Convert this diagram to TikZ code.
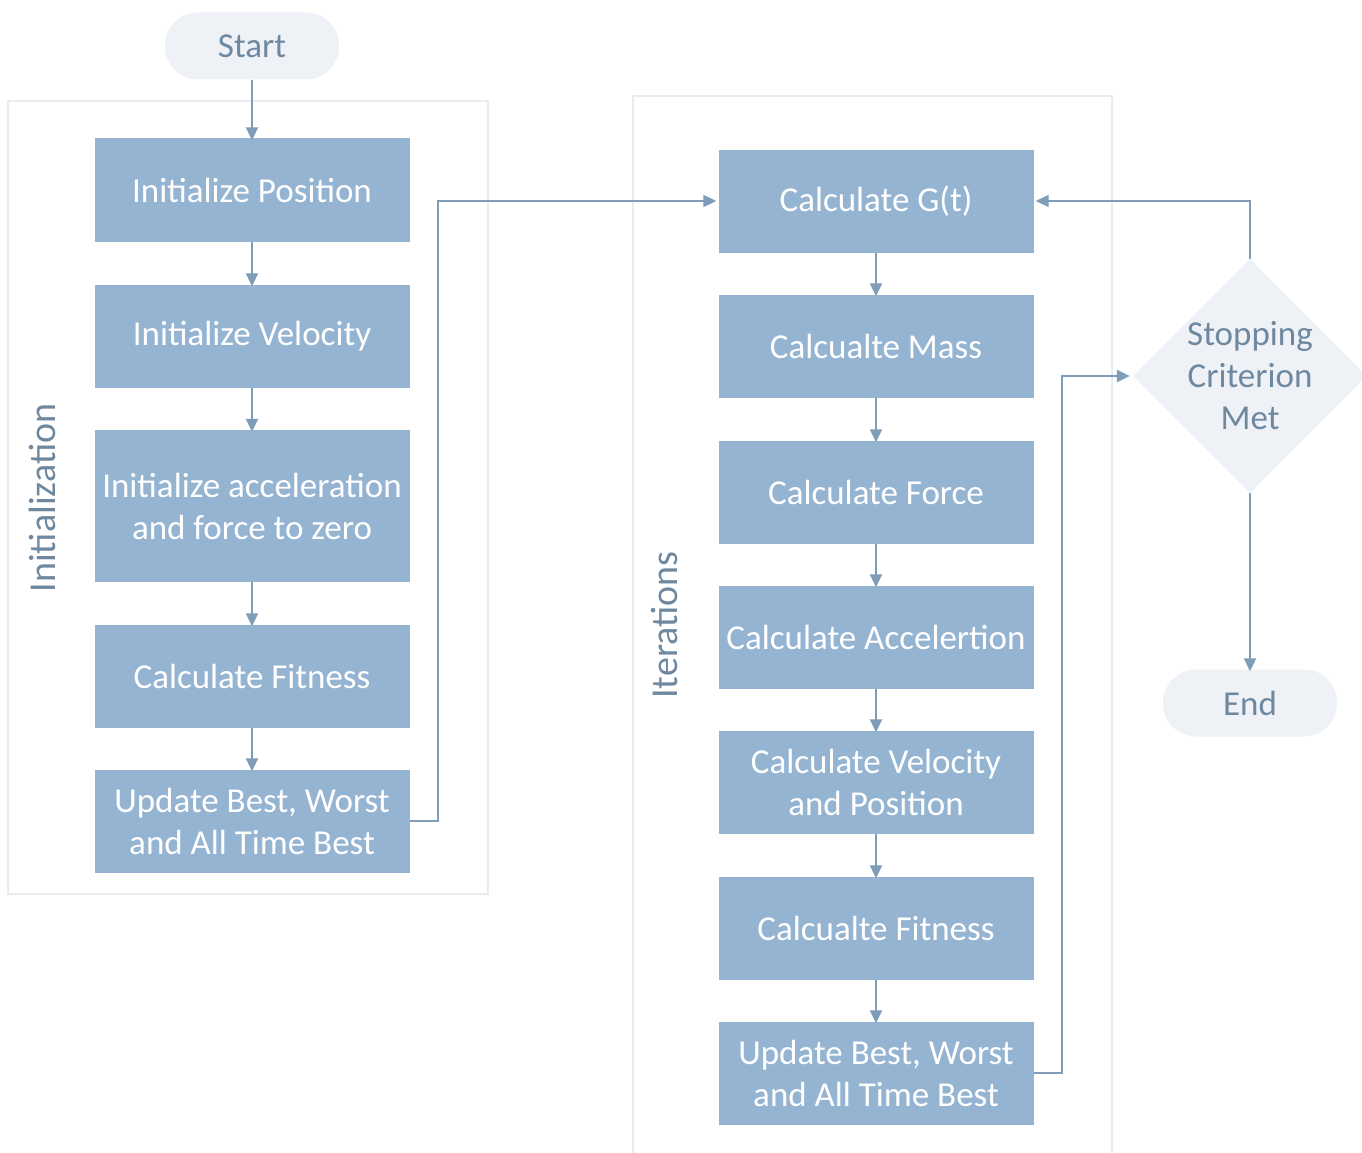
\documentclass[tikz,border=0pt]{standalone}
\usepackage{fontspec}
\setmainfont{Carlito}
\usetikzlibrary{shapes.geometric,arrows.meta}
\definecolor{boxfill}{RGB}{149,180,210}
\definecolor{termfill}{RGB}{238,241,246}
\definecolor{termtext}{RGB}{110,136,160}
\definecolor{wire}{RGB}{127,157,185}
\definecolor{frame}{RGB}{232,236,242}
\tikzset{
  stepbox/.style={draw=none, fill=boxfill, text=white, minimum width=315pt,
    minimum height=103pt, align=center, inner sep=0pt,
    font=\fontsize{35}{42}\selectfont},
  terminal/.style={fill=termfill, text=termtext, rounded corners=33pt,
    minimum width=174pt, minimum height=67pt, inner sep=0pt,
    font=\fontsize{35}{42}\selectfont},
  decision/.style={diamond, fill=termfill, text=termtext, minimum width=224pt,
    minimum height=220pt, inner sep=0pt, align=center, aspect=1,
    font=\fontsize{35}{42}\selectfont},
  flow/.style={draw=wire, line width=2pt, -{Triangle[length=13pt,width=12pt]}},
  group/.style={draw=frame, line width=2.2pt},
  grouplabel/.style={text=termtext, rotate=90, font=\fontsize{38}{42}\selectfont}
}
\begin{document}
\begin{tikzpicture}[x=1pt,y=-1pt]
\useasboundingbox (0,0) rectangle (1362,1153);
\fill[white] (0,0) rectangle (1362,1153);

% group frames
\draw[group] (8,101) rectangle (488,894);
\draw[group] (633,1153) -- (633,96) -- (1112,96) -- (1112,1153);
\node[grouplabel] (initlabel) at (42,498) {Initialization};
\node[grouplabel] (iterlabel) at (664,625) {Iterations};

% initialization column
\node[terminal] (start) at (252,46) {Start};
\node[stepbox] (ipos) at (252,190) {Initialize Position};
\node[stepbox] (ivel) at (252,336) {Initialize Velocity};
\node[stepbox, minimum height=152pt] (iacc) at (252,506) {Initialize acceleration\\and force to zero};
\node[stepbox] (ifit) at (252,676) {Calculate Fitness};
\node[stepbox] (ibest) at (252,821) {Update Best, Worst\\and All Time Best};

% iteration column
\node[stepbox] (gt) at (876,201) {Calculate G(t)};
\node[stepbox] (mass) at (876,346) {Calcualte Mass};
\node[stepbox] (force) at (876,492) {Calculate Force};
\node[stepbox] (acc) at (876,637) {Calculate Accelertion};
\node[stepbox] (velpos) at (876,782) {Calculate Velocity\\and Position};
\node[stepbox] (fit) at (876,928) {Calcualte Fitness};
\node[stepbox] (best) at (876,1073) {Update Best, Worst\\and All Time Best};

% decision and end
\node[decision] (stop) at (1250,376) {Stopping\\Criterion\\Met};
\node[terminal] (end) at (1250,703) {End};

% connectors
\draw[flow] (start) -- ([yshift=-2pt]ipos.north);
\draw[flow] (ipos) -- ([yshift=-2pt]ivel.north);
\draw[flow] (ivel) -- ([yshift=-2pt]iacc.north);
\draw[flow] (iacc) -- ([yshift=-2pt]ifit.north);
\draw[flow] (ifit) -- ([yshift=-2pt]ibest.north);
\draw[flow] (ibest.east) -- (438,821) |- ([xshift=-2pt]gt.west);

\draw[flow] (gt) -- ([yshift=-2pt]mass.north);
\draw[flow] (mass) -- ([yshift=-2pt]force.north);
\draw[flow] (force) -- ([yshift=-2pt]acc.north);
\draw[flow] (acc) -- ([yshift=-2pt]velpos.north);
\draw[flow] (velpos) -- ([yshift=-2pt]fit.north);
\draw[flow] (fit) -- ([yshift=-2pt]best.north);
\draw[flow] (best.east) -- (1062,1073) |- ([xshift=-3pt]stop.west);

\draw[flow] (stop.north) |- ([xshift=2pt]gt.east);
\draw[flow] (stop.south) -- ([yshift=-2pt]end.north);
\end{tikzpicture}
\end{document}
